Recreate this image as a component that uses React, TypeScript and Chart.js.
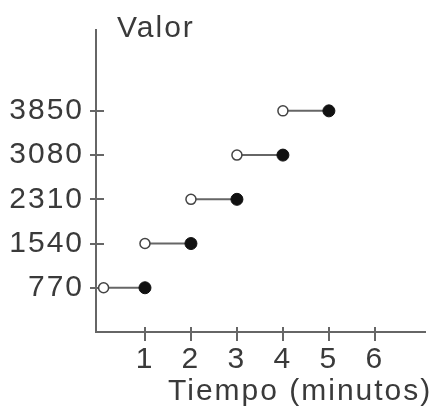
import { useEffect, useRef } from 'react';
import { Chart, registerables } from 'chart.js';

Chart.register(...registerables);

const segmentStarts = [0.1, 1, 2, 3, 4];
const segmentEnds = [1, 2, 3, 4, 5];
const segmentValues = [770, 1540, 2310, 3080, 3850];
const xTickValues = [1, 2, 3, 4, 5, 6];
const yTickValues = [770, 1540, 2310, 3080, 3850];
const xTitle = 'Tiempo (minutos)';
const yTitle = 'Valor';

const FONT = '"Liberation Sans", Arial, sans-serif';
const TEXT = '#3a3a3a';
const AXIS = '#666666';

export default function App() {
  const ref = useRef<HTMLCanvasElement>(null);

  useEffect(() => {
    const canvas = ref.current!;

    const spacing = {
      id: 'spacing',
      beforeUpdate(c: any) { c.ctx.letterSpacing = '2px'; },
      beforeDraw(c: any) { c.ctx.letterSpacing = '2px'; },
    };

    const extras = {
      id: 'extras',
      beforeDatasetsDraw(c: any) {
        const ctx = c.ctx;
        const xs = c.scales.x;
        const ys = c.scales.y;
        const ca = c.chartArea;
        ctx.save();
        ctx.strokeStyle = AXIS;
        ctx.lineWidth = 2;
        ctx.beginPath();
        for (const v of yTickValues) {
          const py = Math.round(ys.getPixelForValue(v));
          ctx.moveTo(ca.left - 6, py);
          ctx.lineTo(ca.left + 8, py);
        }
        for (const v of xTickValues) {
          const px = Math.round(xs.getPixelForValue(v));
          ctx.moveTo(px, ca.bottom - 5);
          ctx.lineTo(px, ca.bottom + 9);
        }
        ctx.stroke();
        ctx.restore();
      },
      afterDraw(c: any) {
        const ctx = c.ctx;
        ctx.save();
        ctx.letterSpacing = '2px';
        ctx.font = `30px ${FONT}`;
        ctx.fillStyle = TEXT;
        ctx.textAlign = 'left';
        ctx.textBaseline = 'alphabetic';
        ctx.fillText(yTitle, 117, 37);
        ctx.fillText(xTitle, 168, 400);
        ctx.restore();
      },
    };

    const chart = new Chart(canvas, {
      type: 'line',
      data: {
        datasets: segmentValues.map((v, i) => ({
          data: [
            { x: segmentStarts[i], y: v },
            { x: segmentEnds[i], y: v },
          ],
          borderColor: '#666666',
          borderWidth: 2,
          showLine: true,
          pointStyle: 'circle',
          pointRadius: [5, 6],
          pointBackgroundColor: ['#ffffff', '#111111'],
          pointBorderColor: ['#444444', '#111111'],
          pointBorderWidth: [1.5, 1],
          clip: false as any,
        })),
      },
      options: {
        responsive: false,
        animation: false,
        layout: { padding: { top: 22, right: 10, left: 0, bottom: 0 } },
        plugins: { legend: { display: false }, tooltip: { enabled: false } },
        scales: {
          x: {
            type: 'linear',
            min: -0.065,
            max: 7.09,
            afterBuildTicks: (s: any) => { s.ticks = xTickValues.map((v) => ({ value: v })); },
            afterFit: (s: any) => { s.height = 79; },
            ticks: {
              font: { family: FONT, size: 30 },
              color: TEXT,
              padding: 10,
              maxRotation: 0,
              autoSkip: false,
              callback: (v: any) => String(v),
            },
            grid: { display: false, drawTicks: false },
            border: { display: true, color: AXIS, width: 2 },
          },
          y: {
            type: 'linear',
            min: 0,
            max: 5258,
            afterBuildTicks: (s: any) => { s.ticks = yTickValues.map((v) => ({ value: v })); },
            afterFit: (s: any) => { s.width = 96; },
            ticks: {
              font: { family: FONT, size: 30 },
              color: TEXT,
              padding: 12,
              autoSkip: false,
              callback: (v: any) => String(v),
            },
            grid: { display: false, drawTicks: false },
            border: { display: true, color: AXIS, width: 2 },
          },
        },
      },
      plugins: [spacing, extras],
    });

    return () => chart.destroy();
  }, []);

  return (
    <div style={{ position: 'absolute', left: 0, top: 0 }}>
      <canvas ref={ref} width={435} height={411} style={{ display: 'block' }} />
    </div>
  );
}
